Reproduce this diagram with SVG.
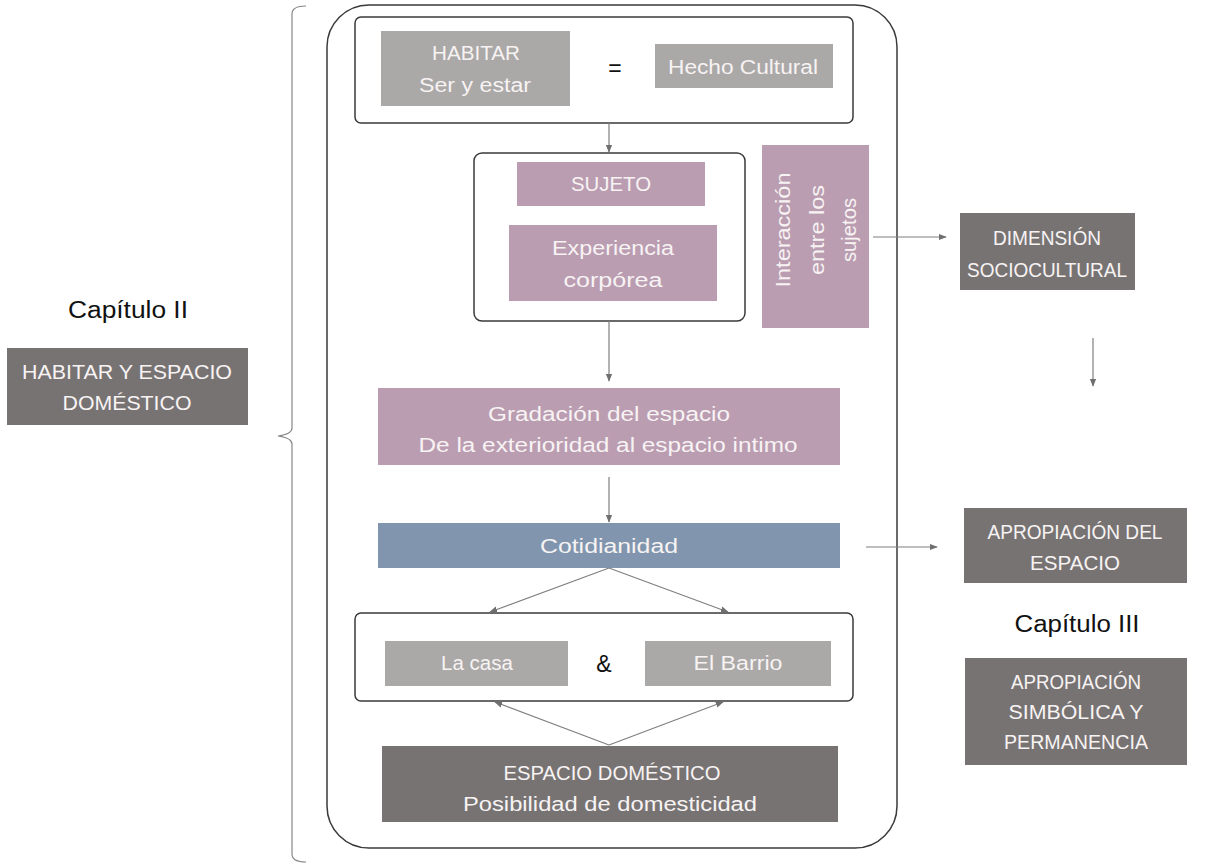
<svg xmlns="http://www.w3.org/2000/svg" width="1212" height="866" viewBox="0 0 1212 866">
<defs>
<style>
.t{font-family:"Liberation Sans",Arial,sans-serif;font-size:20px;fill:#f7f3f3;text-anchor:middle;}
.k{font-family:"Liberation Sans",Arial,sans-serif;font-size:23px;fill:#111;text-anchor:middle;}
.frame{fill:#fff;stroke:#3a3a3a;stroke-width:1.5;}
.g1{fill:#aba8a8;}
.pk{fill:#bb9db2;}
.bl{fill:#8196ae;}
.dk{fill:#787373;}
.ln{stroke:#7f7f7f;stroke-width:1.2;fill:none;}
</style>
<marker id="ah" viewBox="0 0 10 10" refX="9" refY="5" markerWidth="8" markerHeight="8" orient="auto" markerUnits="userSpaceOnUse">
<path d="M0,1 L10,5 L0,9 z" fill="#6f6f6f"/>
</marker>
</defs>
<rect width="1212" height="866" fill="#fff"/>

<g id="brace">
<path d="M306,6 Q292,6 292,14 L292,428 Q292,434 278,436 Q292,438 292,444 L292,854 Q292,862 306,862" fill="none" stroke="#888" stroke-width="1.2"/>
</g>

<g id="outer">
<rect x="327" y="5" width="570" height="843" rx="42" class="frame"/>
</g>

<g id="top">
<rect x="355" y="17" width="498" height="106" rx="6" class="frame"/>
</g>
<g id="habitar">
<rect x="381" y="31" width="189" height="75" class="g1"/>
<text class="t" x="476" y="60" textLength="88" lengthAdjust="spacingAndGlyphs">HABITAR</text>
<text class="t" x="475" y="92" textLength="112" lengthAdjust="spacingAndGlyphs">Ser y estar</text>
</g>
<g id="equals"><text class="k" x="615" y="76" font-size="24">=</text></g>
<g id="hecho">
<rect x="655" y="44" width="178" height="44" class="g1"/>
<text class="t" x="743" y="74" textLength="150" lengthAdjust="spacingAndGlyphs">Hecho Cultural</text>
</g>

<g id="sujetoframe">
<rect x="474" y="153" width="271" height="168" rx="8" class="frame"/>
</g>
<g id="sujeto">
<rect x="517" y="162" width="188" height="44" class="pk"/>
<text class="t" x="611" y="191" textLength="80" lengthAdjust="spacingAndGlyphs">SUJETO</text>
</g>
<g id="experiencia">
<rect x="509" y="225" width="208" height="76" class="pk"/>
<text class="t" x="613" y="255" textLength="122" lengthAdjust="spacingAndGlyphs">Experiencia</text>
<text class="t" x="613" y="287" textLength="99" lengthAdjust="spacingAndGlyphs">corpórea</text>
</g>
<g id="interaccion">
<rect x="762" y="145" width="107" height="183" class="pk"/>
<g transform="translate(816,230) rotate(-90)">
<text class="t" x="0" y="-26" textLength="115" lengthAdjust="spacingAndGlyphs">Interacción</text>
<text class="t" x="0" y="8" textLength="90" lengthAdjust="spacingAndGlyphs">entre los</text>
<text class="t" x="0" y="40" textLength="64" lengthAdjust="spacingAndGlyphs">sujetos</text>
</g>
</g>

<g id="dimension">
<rect x="960" y="213" width="175" height="77" class="dk"/>
<text class="t" x="1047" y="245" textLength="108" lengthAdjust="spacingAndGlyphs">DIMENSIÓN</text>
<text class="t" x="1047" y="277" textLength="160" lengthAdjust="spacingAndGlyphs">SOCIOCULTURAL</text>
</g>

<g id="gradacion">
<rect x="378" y="388" width="462" height="77" class="pk"/>
<text class="t" x="609" y="421" textLength="242" lengthAdjust="spacingAndGlyphs">Gradación del espacio</text>
<text class="t" x="608" y="452" textLength="379" lengthAdjust="spacingAndGlyphs">De la exterioridad al espacio intimo</text>
</g>

<g id="cotidianidad">
<rect x="378" y="523" width="462" height="45" class="bl"/>
<text class="t" x="609" y="553" textLength="138" lengthAdjust="spacingAndGlyphs">Cotidianidad</text>
</g>

<g id="apropiacion">
<rect x="964" y="508" width="223" height="75" class="dk"/>
<text class="t" x="1075" y="539" textLength="175" lengthAdjust="spacingAndGlyphs">APROPIACIÓN DEL</text>
<text class="t" x="1075" y="570" textLength="90" lengthAdjust="spacingAndGlyphs">ESPACIO</text>
</g>

<g id="cap3"><text class="k" x="1077" y="632" textLength="125" lengthAdjust="spacingAndGlyphs">Capítulo III</text></g>

<g id="simbolica">
<rect x="965" y="658" width="222" height="107" class="dk"/>
<text class="t" x="1076" y="689" textLength="130" lengthAdjust="spacingAndGlyphs">APROPIACIÓN</text>
<text class="t" x="1076" y="719" textLength="135" lengthAdjust="spacingAndGlyphs">SIMBÓLICA Y</text>
<text class="t" x="1076" y="749" textLength="144" lengthAdjust="spacingAndGlyphs">PERMANENCIA</text>
</g>

<g id="casaframe">
<rect x="355" y="613" width="498" height="88" rx="6" class="frame"/>
</g>
<g id="casa">
<rect x="385" y="641" width="183" height="45" class="g1"/>
<text class="t" x="477" y="670" textLength="72" lengthAdjust="spacingAndGlyphs">La casa</text>
</g>
<g id="amp"><text class="k" x="604" y="672" font-size="22">&amp;</text></g>
<g id="barrio">
<rect x="645" y="641" width="186" height="45" class="g1"/>
<text class="t" x="738" y="670" textLength="89" lengthAdjust="spacingAndGlyphs">El Barrio</text>
</g>

<g id="domestico">
<rect x="382" y="746" width="456" height="76" class="dk"/>
<text class="t" x="612" y="780" textLength="217" lengthAdjust="spacingAndGlyphs">ESPACIO DOMÉSTICO</text>
<text class="t" x="610" y="811" textLength="294" lengthAdjust="spacingAndGlyphs">Posibilidad de domesticidad</text>
</g>

<g id="cap2"><text class="k" x="128" y="318" textLength="120" lengthAdjust="spacingAndGlyphs">Capítulo II</text></g>
<g id="habitarespacio">
<rect x="7" y="348" width="241" height="77" class="dk"/>
<text class="t" x="127" y="379" textLength="210" lengthAdjust="spacingAndGlyphs">HABITAR Y ESPACIO</text>
<text class="t" x="127" y="410" textLength="129" lengthAdjust="spacingAndGlyphs">DOMÉSTICO</text>
</g>

<g id="connectors">
<line class="ln" x1="609" y1="123" x2="609" y2="152" marker-end="url(#ah)"/>
<line class="ln" x1="609" y1="321" x2="609" y2="381" marker-end="url(#ah)"/>
<line class="ln" x1="609" y1="477" x2="609" y2="522" marker-end="url(#ah)"/>
<line class="ln" x1="873" y1="237" x2="946" y2="237" marker-end="url(#ah)"/>
<line class="ln" x1="1093" y1="338" x2="1093" y2="386" marker-end="url(#ah)"/>
<line class="ln" x1="866" y1="547" x2="937" y2="547" marker-end="url(#ah)"/>
<line class="ln" x1="609" y1="568" x2="490" y2="612" marker-end="url(#ah)"/>
<line class="ln" x1="609" y1="568" x2="728" y2="612" marker-end="url(#ah)"/>
<line class="ln" x1="609" y1="745" x2="495" y2="702" marker-end="url(#ah)"/>
<line class="ln" x1="609" y1="745" x2="723" y2="702" marker-end="url(#ah)"/>
</g>
</svg>
